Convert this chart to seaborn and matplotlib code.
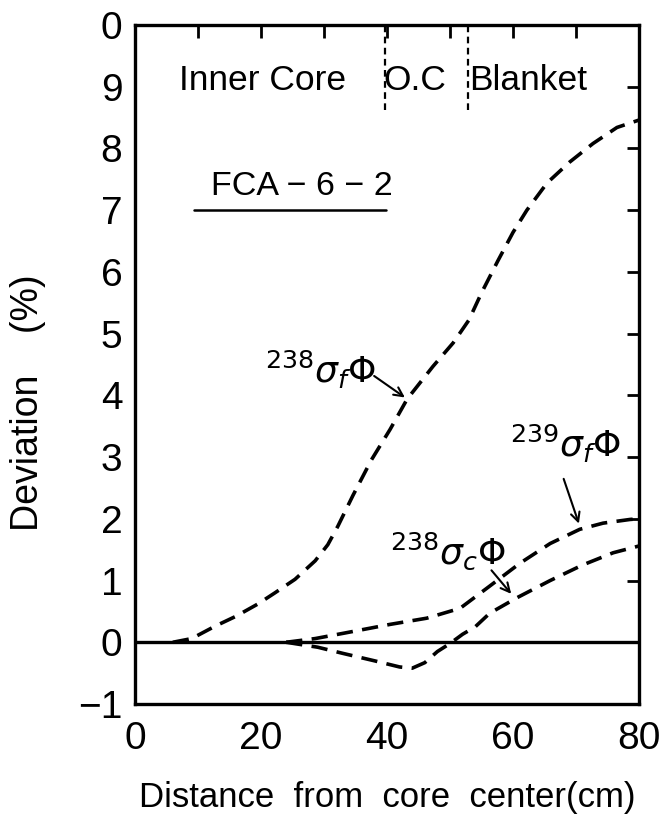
import matplotlib
matplotlib.use("Agg")
import matplotlib.pyplot as plt
import seaborn as sns
import pandas as pd
from matplotlib.lines import Line2D

# ---------------- data ----------------
x_238f = [6, 9, 12.7, 16, 19.5, 22.2, 25.4, 28.6, 30.6, 32.2, 34.6, 37.5, 40.5,
          43.2, 47.3, 50.5, 53, 55, 57.6, 60, 62.2, 65.4, 69, 72.7, 76.5, 80]
y_238f = [0, 0.06, 0.26, 0.42, 0.62, 0.80, 1.02, 1.32, 1.58, 1.88, 2.38, 2.95, 3.45,
          3.94, 4.47, 4.85, 5.22, 5.66, 6.18, 6.64, 7.00, 7.44, 7.78, 8.08, 8.34, 8.46]

x_239f = [24, 28.6, 33.3, 40.5, 46.3, 51.6, 56.3, 61.1, 65.9, 70.6, 74.3, 78.6, 80]
y_239f = [0, 0.06, 0.15, 0.29, 0.39, 0.55, 0.91, 1.28, 1.60, 1.83, 1.93, 1.99, 2.0]

x_238c = [24, 29, 33, 38, 42, 44, 46, 48, 50, 52, 54, 56.3, 60.6, 65.9, 71, 75.9, 80]
y_238c = [0, -0.08, -0.18, -0.30, -0.40, -0.42, -0.33, -0.15, -0.02, 0.13, 0.25,
          0.47, 0.72, 1.00, 1.25, 1.45, 1.56]

x_ticks = [0, 10, 20, 30, 40, 50, 60, 70, 80]
x_ticklabels = ["0", "", "20", "", "40", "", "60", "", "80"]
y_ticks = [-1, 0, 1, 2, 3, 4, 5, 6, 7, 8, 9, 10]
y_ticklabels = ["\u22121", "0", "1", "2", "3", "4", "5", "6", "7", "8", "9", "0"]

region_bounds = [39.7, 52.9]
region_names = ["Inner Core", "O.C", "Blanket"]
region_centers = [20.2, 44.4, 62.4]

curve_labels = [r"$^{238}\sigma_{f}\Phi$", r"$^{239}\sigma_{f}\Phi$", r"$^{238}\sigma_{c}\Phi$"]
label_pos = [(20.6, 4.2), (59.5, 3.0), (40.5, 1.26)]
arrow_tail = [(37.6, 4.34), (67.9, 2.69), (56.3, 1.2)]
arrow_tip = [(43.2, 3.94), (70.6, 1.88), (60.0, 0.75)]

# ---------------- style ----------------
sns.set_theme(style="white")
plt.rcParams["font.family"] = ["Liberation Sans", "DejaVu Sans"]
plt.rcParams["mathtext.fontset"] = "dejavusans"

fig = plt.figure(figsize=(6.65, 8.14), dpi=100)
ax = fig.add_axes([135 / 665, 1 - 704 / 814, (639 - 135) / 665, (704 - 25) / 814])

dash = (0, (4.5, 2.6))
for xs, ys in [(x_238f, y_238f), (x_239f, y_239f), (x_238c, y_238c)]:
    df = pd.DataFrame({"x": xs, "y": ys})
    sns.lineplot(data=df, x="x", y="y", ax=ax, color="black", lw=2.6,
                 linestyle=dash, sort=False, estimator=None)

ax.axhline(0, color="black", lw=2.4, zorder=1)

for xb in region_bounds:
    ax.axvline(xb, ymin=0.875, ymax=1.0, color="black", lw=1.6, linestyle=(0, (3, 2)))
for name, xc in zip(region_names, region_centers):
    ax.text(xc, 9.1, name, ha="center", va="center", fontsize=25.5, color="black")

for lab, pos, tail, tip in zip(curve_labels, label_pos, arrow_tail, arrow_tip):
    ax.text(pos[0], pos[1], lab, ha="left", va="baseline", fontsize=26, color="black")
    ax.annotate("", xy=tip, xytext=tail,
                arrowprops=dict(arrowstyle="->", lw=1.5, color="black", mutation_scale=16))

t = ax.text(26.5, 7.38, "FCA \u2212 6 \u2212 2", ha="center", va="center", fontsize=24.5,
            color="black")

ax.set_xlim(0, 80)
ax.set_ylim(-1, 10)
ax.set_xticks(x_ticks)
ax.set_xticklabels(x_ticklabels)
ax.set_yticks(y_ticks)
ax.set_yticklabels(y_ticklabels)
ax.tick_params(axis="both", direction="in", length=9, width=2, color="black",
               top=True, right=True, labelsize=28, labelcolor="black")
ax.tick_params(axis="x", pad=12)
ax.tick_params(axis="y", pad=9)
for s in ax.spines.values():
    s.set_linewidth(2.4)
    s.set_color("black")
ax.set_xlabel("")
ax.set_ylabel("")

fig.text(28 / 665, 1 - 403 / 814, "Deviation    (%)", rotation=90, ha="center", va="center",
         fontsize=27, color="black")
fig.text(387 / 665, 1 - 798 / 814, "Distance  from  core  center(cm)", ha="center", va="center",
         fontsize=25, color="black")

# underline under FCA-6-2
fig.canvas.draw()
bb = t.get_window_extent().transformed(fig.transFigure.inverted())
yline = bb.y0 - 8 / 814
fig.add_artist(Line2D([bb.x0 - 17 / 665, bb.x1 - 7 / 665], [yline, yline],
                      transform=fig.transFigure, color="black", lw=1.8))

fig.savefig("out.png", dpi=100)
